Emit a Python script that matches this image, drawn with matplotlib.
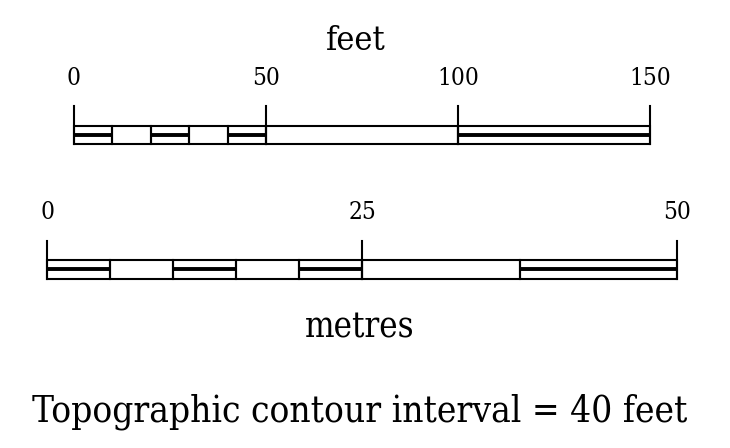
import matplotlib
matplotlib.use("Agg")
import matplotlib.pyplot as plt
from matplotlib.patches import Rectangle

# ==========================================
# 比例尺資料
# ==========================================
feet_ticks = [0, 50, 100, 150]
feet_edges = [0, 10, 20, 30, 40, 50, 100, 150]
feet_split = [True, False, True, False, True, False, True]   # True = 中間有粗線

metre_ticks = [0, 25, 50]
metre_edges = [0, 5, 10, 15, 20, 25, 37.5, 50]
metre_split = [True, False, True, False, True, False, True]

note_text = "Topographic contour interval = 40 feet"

W, H = 730, 448
FONT = dict(family="DejaVu Serif", fontstretch="condensed")


def draw_scale(fig, edges, split, ticks, x0, x1, tick_top, bar_top, bar_mid, bar_bot, label_base):
    # 軸範圍就是整條比例尺; y 以像素為單位 (向下遞增)
    ax = fig.add_axes([x0 / W, 1 - bar_bot / H, (x1 - x0) / W, (bar_bot - tick_top) / H])
    ax.set_xlim(edges[0], edges[-1])
    ax.set_ylim(bar_bot, tick_top)
    ax.axis("off")

    lw = 1.5
    for a, b, s in zip(edges[:-1], edges[1:], split):
        ax.add_patch(Rectangle((a, bar_top), b - a, bar_bot - bar_top, fill=False,
                               lw=lw, ec="black", clip_on=False))
        if s:
            ax.plot([a, b], [bar_mid, bar_mid], color="black", lw=2.8,
                    clip_on=False, solid_capstyle="butt")
    for t in ticks:
        ax.plot([t, t], [tick_top, bar_bot], color="black", lw=lw, clip_on=False)
        ax.text(t, label_base, str(t), ha="center", va="baseline", fontsize=17.5,
                clip_on=False, **FONT)
    return ax


fig = plt.figure(figsize=(W / 100, H / 100), dpi=100)

draw_scale(fig, feet_edges, feet_split, feet_ticks, 74, 650, 106, 126, 135, 144, 85)
draw_scale(fig, metre_edges, metre_split, metre_ticks, 47, 677, 241, 260, 269, 279, 219)

fig.text(355.5 / W, 1 - 50 / H, "feet", ha="center", va="baseline", fontsize=24.5, **FONT)
fig.text(360 / W, 1 - 337 / H, "metres", ha="center", va="baseline", fontsize=25, **FONT)
fig.text(359.5 / W, 1 - 421 / H, note_text, ha="center", va="baseline",
         fontsize=26.5, **FONT)

fig.savefig("out.png", dpi=100, facecolor="white")
